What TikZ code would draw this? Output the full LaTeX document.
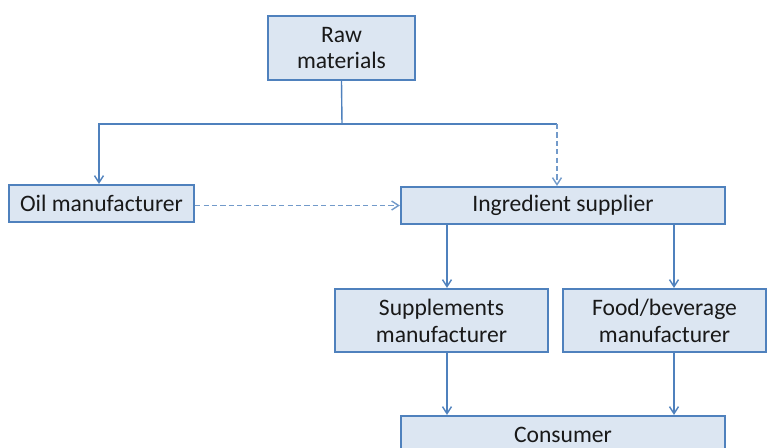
\documentclass[tikz,border=0pt]{standalone}
\usepackage{fontspec}
\setmainfont{Carlito}
\usetikzlibrary{arrows.meta}
\definecolor{boxfill}{RGB}{220,230,242}
\definecolor{boxline}{RGB}{79,129,189}
\definecolor{txt}{RGB}{25,25,25}
\begin{document}
\begin{tikzpicture}[x=0.5pt, y=-0.5pt,
    box/.style = {draw=boxline, fill=boxfill, line width=1.1pt, inner sep=0pt,
                  align=center, text=txt, font=\fontsize{11.8}{13.4}\selectfont},
    arr/.style = {draw=boxline, line width=0.7pt, -{Straight Barb[length=3.5pt,width=4.5pt]}},
    dasharr/.style = {arr, draw=boxline!80, dash pattern=on 2.6pt off 1.6pt}]
				\clip (0,0) rectangle (767,447);
				\useasboundingbox (0,0) rectangle (767,447);
				
				\node[box, minimum width=73.5pt, minimum height=32pt] (raw) at (341.5,48) {Raw\\materials};
				\node[box, minimum width=92.5pt, minimum height=18.5pt] (oil) at (101.5,203.5) {Oil manufacturer};
				\node[box, minimum width=162pt, minimum height=18.5pt] (ingr) at (563,205.5) {Ingredient supplier};
				\node[box, minimum width=106.5pt, minimum height=31.5pt] (supp) at (441.5,320.5) {Supplements\\manufacturer};
				\node[box, minimum width=101.5pt, minimum height=31.5pt] (food) at (664.5,320.5) {Food/beverage\\manufacturer};
				\node[box, minimum width=162pt, minimum height=18.5pt] (cons) at (563,434.5) {Consumer};
				
				\coordinate (split) at (342,124);
				\coordinate (lft) at (99,124);
				\coordinate (rgt) at (557,124);
				\coordinate (c1) at (447,0);
				\coordinate (c2) at (674,0);
				
				\draw[boxline, line width=0.7pt] (raw.south) -- (split);
				\draw[arr] (split) -- (lft) -- (oil.north -| lft);
				\draw[boxline, line width=0.7pt] (split) -- (rgt);
				\draw[dasharr] (rgt) -- (ingr.north -| rgt);
				\draw[dasharr] (oil.east |- ingr.west) -- (ingr.west);
				\draw[arr] (ingr.south -| c1) -- (supp.north -| c1);
				\draw[arr] (ingr.south -| c2) -- (food.north -| c2);
				\draw[arr] (supp.south -| c1) -- (cons.north -| c1);
				\draw[arr] (food.south -| c2) -- (cons.north -| c2);
			\end{tikzpicture}
\end{document}
